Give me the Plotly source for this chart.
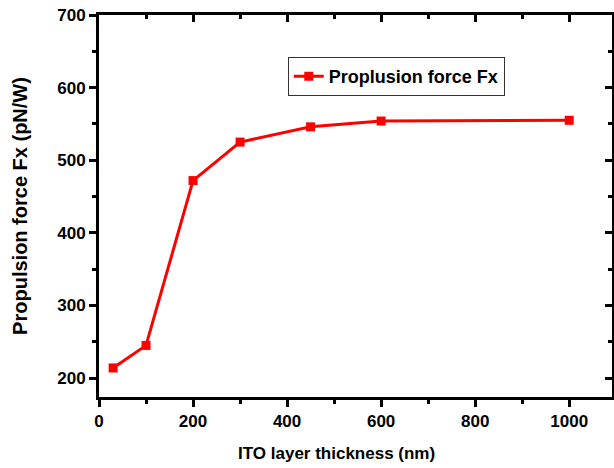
import plotly.graph_objects as go

thickness = [30, 100, 200, 300, 450, 600, 1000]
force = [214, 245, 472, 525, 546, 554, 555]
series_name = "Proplusion force Fx"
x_title = "ITO layer thickness (nm)"
y_title = "Propulsion force Fx (pN/W)"

RED = "#ff0000"
FONT = "Liberation Sans"
xr = [0, 1091]
yr = [174, 700]

fig = go.Figure()
fig.add_trace(go.Scatter(
    x=thickness, y=force, mode="lines+markers", name=series_name,
    line=dict(color=RED, width=3),
    marker=dict(symbol="square", size=9, color=RED),
))
fig.add_trace(go.Scatter(
    x=thickness, y=force, mode="lines", xaxis="x2", yaxis="y2",
    line=dict(color="rgba(0,0,0,0)"), showlegend=False, hoverinfo="skip",
))

axis_common = dict(showline=True, linecolor="black", linewidth=3,
                   showgrid=False, zeroline=False, tickwidth=2.5,
                   tickcolor="black")

fig.update_layout(
    width=614, height=468,
    margin=dict(l=99, r=2, t=15, b=71),
    plot_bgcolor="white", paper_bgcolor="white",
    font=dict(family=FONT, size=15, color="black"),
    xaxis=dict(range=xr, dtick=200, tick0=0, ticks="outside", ticklen=7,
               minor=dict(ticks="outside", dtick=100, ticklen=4, tickwidth=2.5, tickcolor="black"),
               tickfont=dict(family=FONT, size=17, color="black", weight="bold"),
               **axis_common),
    yaxis=dict(range=yr, dtick=100, tick0=0, ticks="outside", ticklen=7,
               minor=dict(ticks="outside", dtick=50, ticklen=4, tickwidth=2.5, tickcolor="black"),
               tickfont=dict(family=FONT, size=17, color="black", weight="bold"),
               title=dict(text="<b>" + y_title + "</b>", font=dict(size=20), standoff=25),
               **axis_common),
    xaxis2=dict(range=xr, overlaying="x", side="top", anchor="y", dtick=200, tick0=0,
                ticks="inside", ticklen=7, showticklabels=False,
                minor=dict(ticks="inside", dtick=100, ticklen=4, tickwidth=2.5, tickcolor="black"),
                **axis_common),
    yaxis2=dict(range=yr, overlaying="y", side="right", anchor="x", dtick=100, tick0=0,
                ticks="inside", ticklen=7, showticklabels=False,
                minor=dict(ticks="inside", dtick=50, ticklen=4, tickwidth=2.5, tickcolor="black"),
                **axis_common),
    legend=dict(x=0.368, y=0.89, xanchor="left", yanchor="top",
                bordercolor="#333333", borderwidth=1, bgcolor="white",
                font=dict(family=FONT, size=18, color="black", weight="bold"),
                itemwidth=30, tracegroupgap=0),
    showlegend=True,
    annotations=[dict(text="<b>" + x_title + "</b>", xref="paper", yref="paper",
                      x=0.462, y=-0.147, xanchor="center", yanchor="middle",
                      showarrow=False, font=dict(family=FONT, size=17, color="black"))],
)

fig.write_html("out.html")
